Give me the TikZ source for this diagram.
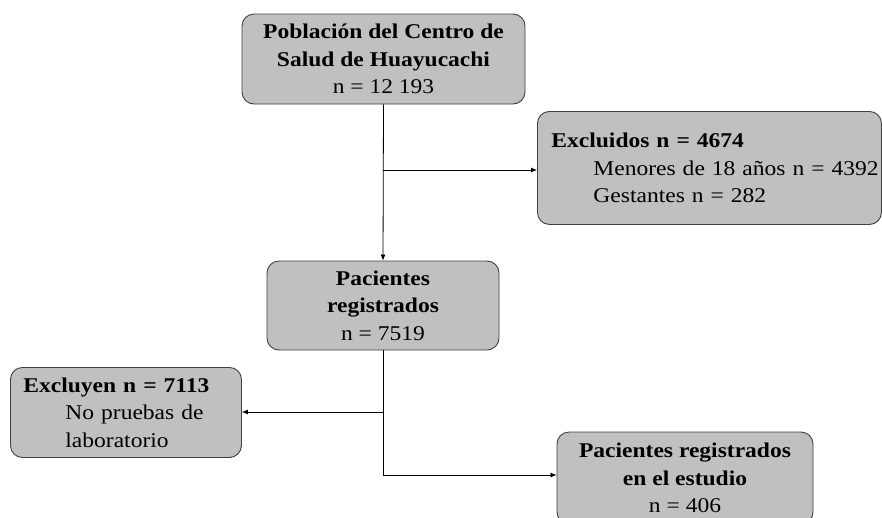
\documentclass[tikz,border=0pt]{standalone}
\usepackage{fontspec}
\setmainfont[FakeStretch=1.12]{Liberation Serif}
\usetikzlibrary{arrows.meta}
\definecolor{boxgray}{RGB}{192,192,192}
\definecolor{boxedge}{RGB}{64,64,64}
\begin{document}
\begin{tikzpicture}[x=1pt,y=-1pt,
  boxstyle/.style={draw=boxedge, fill=boxgray, rounded corners=12pt, line width=0.9pt,
    inner ysep=0pt, font=\fontsize{21}{27.5}\selectfont},
  conn/.style={line width=0.8pt, draw=black},
  arr/.style={conn, -{Latex[length=6pt,width=5pt]}}]
\useasboundingbox (0,0) rectangle (882,517);

\node[boxstyle, minimum width=283pt, minimum height=90pt, align=center]
  (pob) at (383.5,59) {\textbf{Población del Centro de}\\\textbf{Salud de Huayucachi}\\n = 12 193};

\node[boxstyle, anchor=north west, text width=316pt, inner xsep=14pt, minimum height=113pt, align=left]
  (excl) at (537,111) {\textbf{Excluidos n = 4674}\\\mbox{\hspace*{42pt}Menores de 18 años n = 4392}\\\hspace*{42pt}Gestantes n = 282};

\node[boxstyle, minimum width=232pt, minimum height=89pt, align=center]
  (reg) at (383,305.5) {\textbf{Pacientes}\\\textbf{registrados}\\n = 7519};

\node[boxstyle, anchor=north west, text width=205pt, inner xsep=13pt, minimum height=90pt, align=left]
  (exly) at (10,367) {\textbf{Excluyen n = 7113}\\\hspace*{42pt}No pruebas de\\\hspace*{42pt}laboratorio};

\node[boxstyle, minimum width=256pt, minimum height=92pt, align=center]
  (est) at (685,478) {\textbf{Pacientes registrados}\\\textbf{en el estudio}\\n = 406};

\coordinate (j1) at (383,170);
\coordinate (j2) at (383,412);
\coordinate (j3) at (383,475);

\draw[arr] (pob.south) -- (reg.north);
\draw[arr] (j1) -- (j1 -| excl.west);
\draw[conn] (reg.south) -- (j3);
\draw[arr] (j3) -- (j3 -| est.west);
\draw[arr] (j2) -- (j2 -| exly.east);
\end{tikzpicture}
\end{document}
